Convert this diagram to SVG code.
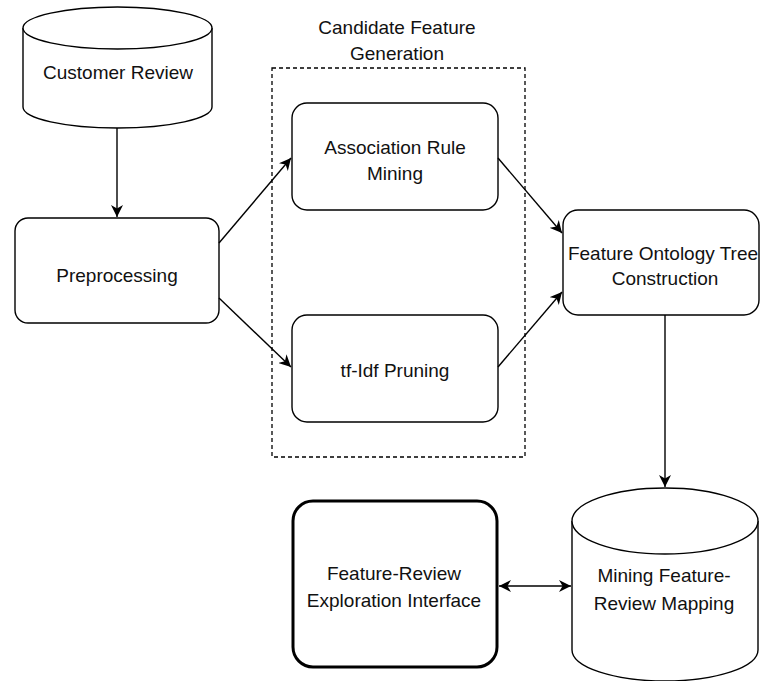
<svg xmlns="http://www.w3.org/2000/svg" width="760" height="681" viewBox="0 0 760 681">
  <style>
    .shape { fill: #ffffff; stroke: #000000; stroke-width: 1.4; }
    .thick { fill: #ffffff; stroke: #000000; stroke-width: 3; }
    .label { font-family: "Liberation Sans", Arial, sans-serif; font-size: 19px; fill: #111111; text-anchor: middle; }
    .edge { fill: none; stroke: #000000; stroke-width: 1.4; }
    .group { fill: none; stroke: #000000; stroke-width: 1.3; stroke-dasharray: 4 3; }
  </style>
  <defs>
    <marker id="arrow" viewBox="0 0 10 10" refX="10" refY="5" markerWidth="12" markerHeight="12" markerUnits="userSpaceOnUse" orient="auto-start-reverse">
      <path d="M0,0 L10,5 L0,10 L3,5 Z" fill="#000000"/>
    </marker>
  </defs>
  <rect width="760" height="681" fill="#ffffff"/>

  <g id="candidate-feature-generation">
    <rect class="group" x="272" y="68" width="253" height="389"/>
    <text class="label" x="397" y="34">Candidate Feature</text>
    <text class="label" x="397" y="60">Generation</text>
  </g>

  <g id="customer-review">
    <path class="shape" d="M23,28 L23,107 A94.5,21 0 0 0 212,107 L212,28 A94.5,21 0 0 0 23,28 Z"/>
    <path class="shape" d="M23,28 A94.5,21 0 0 0 212,28" fill="none"/>
    <text class="label" x="118" y="79">Customer Review</text>
  </g>

  <g id="preprocessing">
    <rect class="shape" x="15" y="218" width="204" height="105" rx="13"/>
    <text class="label" x="117" y="282">Preprocessing</text>
  </g>

  <g id="association-rule-mining">
    <rect class="shape" x="292" y="103" width="206" height="107" rx="15"/>
    <text class="label" x="395" y="154">Association Rule</text>
    <text class="label" x="395" y="180">Mining</text>
  </g>

  <g id="tf-idf-pruning">
    <rect class="shape" x="292" y="315" width="206" height="107" rx="15"/>
    <text class="label" x="395" y="377">tf-Idf Pruning</text>
  </g>

  <g id="feature-ontology-tree">
    <rect class="shape" x="563" y="210" width="196" height="105" rx="15"/>
    <text class="label" x="663" y="260">Feature Ontology Tree</text>
    <text class="label" x="665" y="285">Construction</text>
  </g>

  <g id="mining-feature-review-mapping">
    <path class="shape" d="M572,521 L572,650 A93,31 0 0 0 758,650 L758,521 A93,33 0 0 0 572,521 Z"/>
    <path class="shape" d="M572,521 A93,33 0 0 0 758,521" fill="none"/>
    <text class="label" x="664" y="582">Mining Feature-</text>
    <text class="label" x="664" y="610">Review Mapping</text>
  </g>

  <g id="feature-review-exploration-interface">
    <rect class="thick" x="293" y="501" width="204" height="166" rx="20"/>
    <text class="label" x="394" y="580">Feature-Review</text>
    <text class="label" x="394" y="607">Exploration Interface</text>
  </g>

  <g id="connectors">
    <line class="edge" x1="117" y1="128" x2="117" y2="217" marker-end="url(#arrow)"/>
    <line class="edge" x1="219" y1="243" x2="291" y2="158" marker-end="url(#arrow)"/>
    <line class="edge" x1="219" y1="298" x2="291" y2="367" marker-end="url(#arrow)"/>
    <line class="edge" x1="498" y1="158" x2="562" y2="233" marker-end="url(#arrow)"/>
    <line class="edge" x1="498" y1="367" x2="562" y2="292" marker-end="url(#arrow)"/>
    <line class="edge" x1="665" y1="315" x2="665" y2="487" marker-end="url(#arrow)"/>
    <line class="edge" x1="499" y1="586" x2="571" y2="586" marker-start="url(#arrow)" marker-end="url(#arrow)"/>
  </g>
</svg>
